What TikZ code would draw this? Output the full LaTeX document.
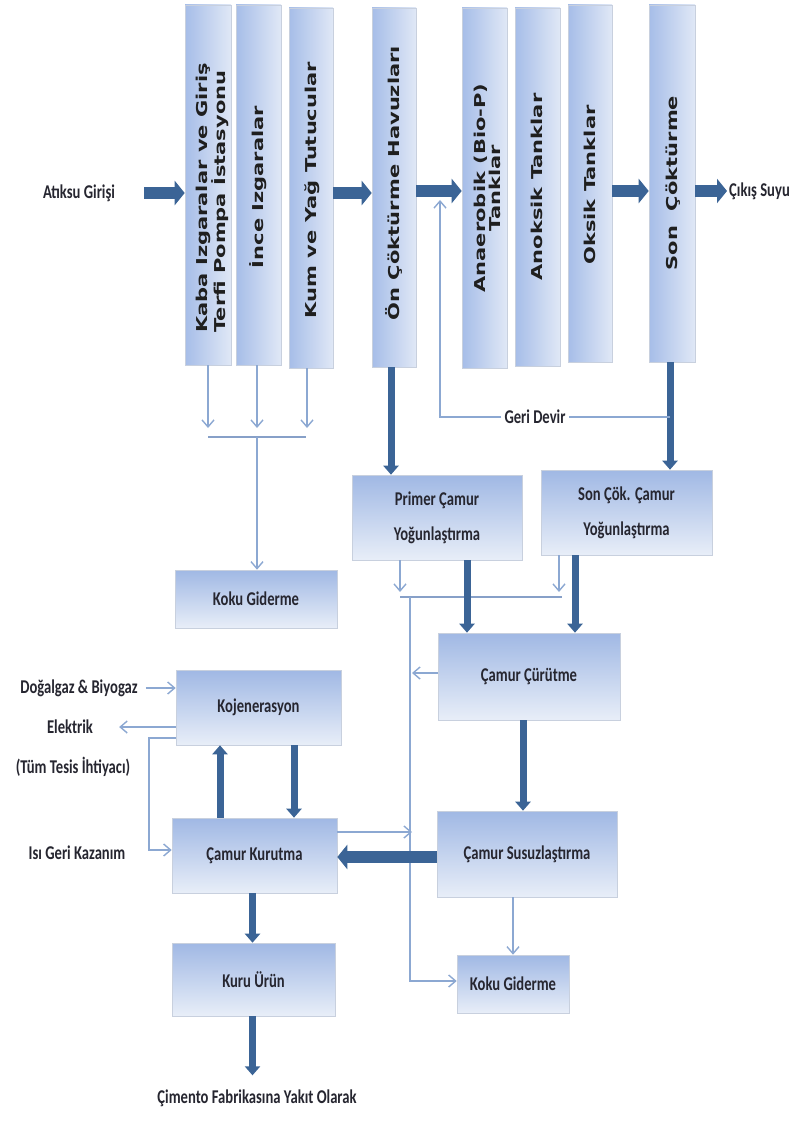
\documentclass[tikz,border=0pt]{standalone}
\usepackage{fontspec}
\setmainfont{Carlito}
\newfontfamily\vfont{DejaVu Sans}[FakeStretch=1.4]
\newfontfamily\hfont{Carlito}[FakeStretch=0.75]
\usetikzlibrary{arrows.meta}
\definecolor{arrdark}{RGB}{59,100,150}
\definecolor{arrlight}{RGB}{140,168,210}
\definecolor{barcol}{RGB}{135,160,200}
\definecolor{boxtop}{RGB}{160,184,228}
\definecolor{boxbot}{RGB}{232,238,248}
\definecolor{boxleft}{RGB}{166,189,232}
\definecolor{boxright}{RGB}{224,232,246}
\definecolor{boxedge}{RGB}{200,208,222}
\definecolor{txt}{RGB}{38,38,48}
\begin{document}
\begin{tikzpicture}[x=1pt,y=-1pt,
 hb/.style={draw=boxedge, line width=0.6pt, top color=boxtop, bottom color=boxbot, inner sep=0pt, font=\hfont\bfseries\fontsize{19.5}{35}\selectfont, text=txt, align=center},
 vb/.style={draw=boxedge, line width=0.6pt, left color=boxleft, right color=boxright, inner sep=0pt},
 vt/.style={rotate=90, font=\vfont\bfseries\fontsize{15}{17}\selectfont, text=black!88, inner sep=0pt},
 lbl/.style={font=\hfont\bfseries\fontsize{19.5}{22}\selectfont, text=txt, inner sep=1pt},
 fat/.style={draw=arrdark, line width=7pt, -{Triangle[width=15pt,length=9pt]}},
 vfat/.style={draw=arrdark, line width=12pt, -{Triangle[width=24pt,length=10pt]}},
 thinar/.style={draw=arrlight, line width=1.4pt, -{Straight Barb[width=12pt,length=7pt]}},
 thinln/.style={draw=arrlight, line width=1.4pt},
 barln/.style={draw=barcol, line width=2pt},
]
\useasboundingbox[fill=white] (0,0) rectangle (798,1131);

% vertical process boxes
\node[vb, minimum width=46pt, minimum height=360pt] (b1) at (208,185) {};
\node[vb, minimum width=45pt, minimum height=360pt] (b2) at (258.5,185) {};
\node[vb, minimum width=44pt, minimum height=360pt] (b3) at (311,188) {};
\node[vb, minimum width=44pt, minimum height=359pt] (b4) at (394,187.5) {};
\node[vb, minimum width=45pt, minimum height=360pt] (b5) at (484.5,188) {};
\node[vb, minimum width=45pt, minimum height=358pt] (b6) at (537.5,187) {};
\node[vb, minimum width=44pt, minimum height=357pt] (b7) at (590,183.5) {};
\node[vb, minimum width=46pt, minimum height=357pt] (b8) at (672,183.5) {};

\node[vt, align=left] (b1t) at (212,198) {Kaba Izgaralar ve Giriş\\Terfi Pompa İstasyonu};
\node[vt] (b2t) at (258,187) {İnce Izgaralar};
\node[vt] (b3t) at (312,190) {Kum ve Yağ Tutucular};
\node[vt] (b4t) at (394,183) {Ön Çöktürme Havuzları};
\node[vt, align=center, font=\vfont\bfseries\fontsize{15}{15}\selectfont] (b5t) at (487,188) {Anaerobik (Bio-P)\\Tanklar};
\node[vt] (b6t) at (537,187) {Anoksik Tanklar};
\node[vt] (b7t) at (590,185) {Oksik Tanklar};
\node[vt] (b8t) at (673,183) {Son\ \ Çöktürme};

% horizontal boxes
\node[hb, minimum width=170pt, minimum height=85pt] (prim) at (437,517.5) {Primer Çamur\\Yoğunlaştırma};
\node[hb, minimum width=171pt, minimum height=85pt] (son) at (626.5,512.5) {Son Çök. Çamur\\Yoğunlaştırma};
\node[hb, minimum width=162pt, minimum height=58pt] (kokuU) at (256,599) {Koku Giderme};
\node[hb, minimum width=182pt, minimum height=87pt] (curutme) at (529,676.5) {Çamur Çürütme};
\node[hb, minimum width=165pt, minimum height=75pt] (kojen) at (258.5,707.5) {Kojenerasyon};
\node[hb, minimum width=165pt, minimum height=75pt] (kurutma) at (254.5,855.5) {Çamur Kurutma};
\node[hb, minimum width=180pt, minimum height=86pt] (susuz) at (527,854) {Çamur Susuzlaştırma};
\node[hb, minimum width=163pt, minimum height=73pt] (kuru) at (253.5,979.5) {Kuru Ürün};
\node[hb, minimum width=112pt, minimum height=58pt] (kokuL) at (513,984) {Koku Giderme};

% free labels
\node[lbl] (atiksu) at (79,193) {Atıksu Girişi};
\node[lbl, anchor=west] (cikis) at (728,191) {Çıkış Suyu};
\node[lbl] (geri) at (535,417) {Geri Devir};
\node[lbl] (dogal) at (79,688) {Doğalgaz \& Biyogaz};
\node[lbl] (elek) at (70,727) {Elektrik};
\node[lbl] (tum) at (73,767) {(Tüm Tesis İhtiyacı)};
\node[lbl] (isi) at (77,853) {Isı Geri Kazanım};
\node[lbl] (cimento) at (257,1098) {Çimento Fabrikasına Yakıt Olarak};

% main water line
\draw[vfat, shorten <=28pt] (atiksu.east) -- (b1.west |- atiksu);
\draw[vfat] (b3.east |- atiksu) -- (b4.west |- atiksu);
\draw[vfat] (b4.east |- cikis) -- (b5.west |- cikis);
\draw[vfat] (b7.east |- cikis) -- (b8.west |- cikis);
\draw[vfat, shorten >=1pt] (b8.east |- cikis) -- (cikis.west);

% collector from screens
\coordinate (k1) at (208,428);
\coordinate (k2) at (257,428);
\coordinate (k3) at (307,428);
\draw[thinar] (b1.south -| k1) -- (k1);
\draw[thinar] (b2.south -| k2) -- (k2);
\draw[thinar] (b3.south -| k3) -- (k3);
\coordinate (barL) at (208,437);
\coordinate (barR) at (306,437);
\coordinate (barM) at (257,437);
\draw[barln] (barL) -- (barR);
\draw[thinar] (barM) -- (kokuU.north -| barM);

% sludge lines
\coordinate (gdj) at (670,417);
\coordinate (gdc) at (440,417);
\coordinate (gdtip) at (440,200);
\draw[fat] (b4.south -| 391,0) -- (prim.north -| 391,0);
\draw[fat] (b8.south -| gdj) -- (son.north -| gdj);
\draw[thinln, shorten >=2pt] (gdj) -- (geri.east);
\draw[thinar, shorten <=2pt] (geri.west) -- (gdc) -- (gdtip);

\coordinate (m1) at (400,592);
\coordinate (m2) at (559,592);
\draw[thinar] (prim.south -| m1) -- (m1);
\draw[thinar] (son.south -| m2) -- (m2);
\coordinate (bar2L) at (400,597);
\coordinate (bar2R) at (562,597);
\draw[barln] (bar2L) -- (bar2R);
\coordinate (vtop) at (410,597);
\coordinate (vbot) at (410,981);
\draw[thinar] (vtop) -- (vbot) -- (kokuL.west |- vbot);
\coordinate (v1) at (412,673);
\coordinate (v2) at (412,832);
\draw[thinar] (curutme.west |- v1) -- (v1);
\draw[thinar] (kurutma.east |- v2) -- (v2);

\draw[fat] ([xshift=30pt]prim.south) -- ([xshift=30pt]prim.south |- curutme.north);
\draw[fat] ([xshift=-51.5pt]son.south) -- ([xshift=-51.5pt]son.south |- curutme.north);
\draw[fat] ([xshift=-6pt]curutme.south) -- ([xshift=-6pt]curutme.south |- susuz.north);
\draw[vfat] ([yshift=-3pt]susuz.west) -- ([yshift=-3pt]susuz.west -| kurutma.east);
\draw[thinar] (susuz.south -| kokuL.north) -- (kokuL.north);

% left side
\draw[thinar, shorten <=7pt] (dogal.east) -- (kojen.west |- dogal.east);
\draw[thinar, shorten >=25pt] (kojen.west |- elek) -- (elek.east);
\coordinate (lp1) at (149,738);
\coordinate (lp2) at (149,850);
\draw[thinar] (kojen.west |- lp1) -- (lp1) -- (lp2) -- (kurutma.west |- lp2);
\draw[fat] ([xshift=-34.5pt]kurutma.north) -- ([xshift=-34.5pt]kurutma.north |- kojen.south);
\draw[fat] ([xshift=35.5pt]kojen.south) -- ([xshift=35.5pt]kojen.south |- kurutma.north);
\draw[fat] ([xshift=-2pt]kurutma.south) -- ([xshift=-2pt]kurutma.south |- kuru.north);
\draw[fat, shorten >=13pt] ([xshift=-1pt]kuru.south) -- ([xshift=-1pt]kuru.south |- cimento.north);
\end{tikzpicture}
\end{document}
